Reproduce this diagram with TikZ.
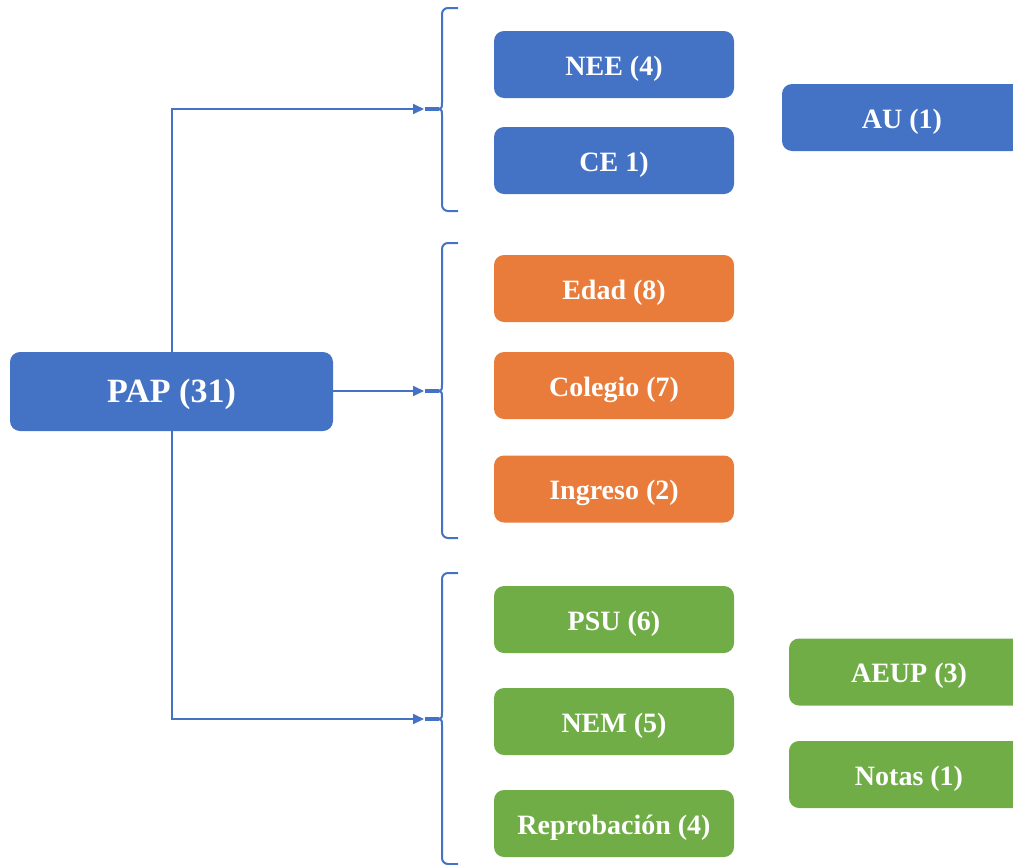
\documentclass[tikz,border=0pt]{standalone}
\usepackage{fontspec}
\setmainfont{Liberation Serif}
\usetikzlibrary{arrows.meta}
\definecolor{cblue}{HTML}{4472C4}
\definecolor{corange}{HTML}{E97C3A}
\definecolor{cgreen}{HTML}{70AD47}
\tikzset{
  box/.style={rectangle, rounded corners=10pt, draw=none, text=white,
    minimum width=240pt, minimum height=67pt, inner sep=0pt,
    text height=21.4pt, text depth=0pt,
    font=\fontsize{28}{30}\selectfont\bfseries},
  bluebox/.style={box, fill=cblue},
  orangebox/.style={box, fill=corange},
  greenbox/.style={box, fill=cgreen},
  link/.style={draw=cblue, line width=2pt, -{Triangle[length=11pt,width=10pt]}},
  bracketline/.style={draw=cblue, line width=2pt, line join=round},
  bar/.style={draw=cblue, line width=4pt}
}
% left bracket with a cusp: #1 top y, #2 middle y, #3 bottom y, #4 name of cusp coordinate
\newcommand\leftbracket[4]{%
  \draw[bracketline] (458,#1) -- (448,#1) arc[start angle=90,end angle=180,radius=6pt]
    -- (442,#2-6) .. controls (442,#2-1) .. (438,#2)
    .. controls (442,#2+1) .. (442,#2+6)
    -- (442,#3-6) arc[start angle=180,end angle=270,radius=6pt] -- (458,#3);
  \coordinate (#4) at (424,#2);
  \draw[bar] (425,#2) -- (439,#2);
}
\begin{document}
\begin{tikzpicture}[x=1pt,y=-1pt]
\useasboundingbox (0,0) rectangle (1013,865);
\clip (0,0) rectangle (1013,865);

% root
\node[bluebox, minimum width=323pt, minimum height=79pt, text height=22.5pt,
      font=\fontsize{34}{36}\selectfont\bfseries] (pap) at (171.5,391.5) {PAP (31)};

% first group
\node[bluebox] (nee) at (614,64.5) {NEE (4)};
\node[bluebox] (ce) at (614,160.5) {CE 1)};
\node[bluebox] (au) at (902,117.5) {AU (1)};

% second group
\node[orangebox] (edad) at (614,288.5) {Edad (8)};
\node[orangebox] (colegio) at (614,385.5) {Colegio (7)};
\node[orangebox] (ingreso) at (614,489) {Ingreso (2)};

% third group
\node[greenbox] (psu) at (614,619.5) {PSU (6)};
\node[greenbox] (nem) at (614,721.5) {NEM (5)};
\node[greenbox] (repro) at (614,823.5) {Reprobación (4)};
\node[greenbox] (aeup) at (909,672) {AEUP (3)};
\node[greenbox] (notas) at (909,774.5) {Notas (1)};

% brackets
\leftbracket{8}{109}{211}{g1}
\leftbracket{243}{391}{538}{g2}
\leftbracket{573}{719}{864}{g3}

% connectors
\draw[link] ([xshift=0.5pt]pap.north) |- (g1);
\draw[link] (pap.east |- g2) -- (g2);
\draw[link] ([xshift=0.5pt]pap.south) |- (g3);
\end{tikzpicture}
\end{document}
